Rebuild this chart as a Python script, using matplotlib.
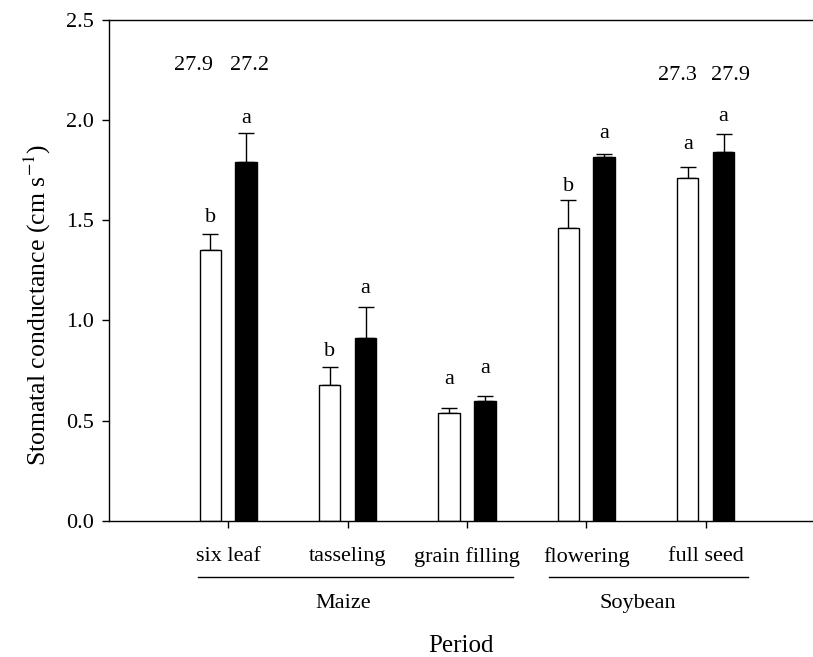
import numpy as np
import matplotlib
matplotlib.use("Agg")
import matplotlib.pyplot as plt
from matplotlib.lines import Line2D

plt.rcParams['font.family'] = ['Liberation Serif', 'DejaVu Serif']
plt.rcParams['mathtext.fontset'] = 'stix'

periods = ['six leaf', 'tasseling', 'grain filling', 'flowering', 'full seed']
white_mean = [1.35, 0.68, 0.54, 1.46, 1.71]
white_err = [0.08, 0.086, 0.023, 0.143, 0.056]
black_mean = [1.79, 0.915, 0.60, 1.815, 1.84]
black_err = [0.145, 0.15, 0.022, 0.016, 0.088]
white_letter = ['b', 'b', 'a', 'b', 'a']
black_letter = ['a', 'a', 'a', 'a', 'a']

# temperatures written above the six leaf and full seed pairs
temp_labels = ['27.9', '27.2', '27.3', '27.9']
temp_x = [0.71, 1.18, 4.76, 5.21]
temp_y = [2.27, 2.27, 2.22, 2.22]

crops = ['Maize', 'Soybean']

fs = 16
x = np.arange(1, len(periods) + 1)
off = 0.15
w = 0.18

fig = plt.figure(figsize=(8.13, 6.57), dpi=100)
ax = fig.add_axes([0.134, 0.207, 0.866, 0.763])

ax.bar(x - off, white_mean, w, color='white', edgecolor='black', linewidth=1, zorder=2)
ax.bar(x + off, black_mean, w, color='black', edgecolor='black', linewidth=1, zorder=2)
ax.errorbar(x - off, white_mean, yerr=[np.zeros(5), white_err], fmt='none',
            ecolor='black', elinewidth=1, capsize=5.5, capthick=1, zorder=1)
ax.errorbar(x + off, black_mean, yerr=[np.zeros(5), black_err], fmt='none',
            ecolor='black', elinewidth=1, capsize=5.5, capthick=1, zorder=1)

# significance letters, a small gap above each error bar
gap_w = [0.06, 0.057, 0.12, 0.045, 0.09]
gap_b = [0.05, 0.07, 0.115, 0.077, 0.068]
for i in range(len(periods)):
    ax.text(x[i] - off, white_mean[i] + white_err[i] + gap_w[i], white_letter[i],
            ha='center', va='baseline', fontsize=fs)
    ax.text(x[i] + off, black_mean[i] + black_err[i] + gap_b[i], black_letter[i],
            ha='center', va='baseline', fontsize=fs)

for t, tx, ty in zip(temp_labels, temp_x, temp_y):
    ax.text(tx, ty, t, ha='center', va='center', fontsize=fs)

ax.set_xlim(0, 5.9)
ax.set_ylim(0, 2.5)
ax.set_xticks(x)
ax.set_xticklabels(periods, fontsize=fs)
ax.set_yticks(np.arange(0, 2.51, 0.5))
ax.set_yticklabels(['%.1f' % v for v in np.arange(0, 2.51, 0.5)], fontsize=fs)
ax.tick_params(axis='x', direction='out', length=5, width=1, pad=14)
ax.tick_params(axis='y', direction='out', length=5, width=1, pad=6)
ax.spines['right'].set_visible(False)
for s in ['left', 'top', 'bottom']:
    ax.spines[s].set_linewidth(1)

ax.set_ylabel('Stomatal conductance (cm s$^{-1}$)', fontsize=18.5)
ax.yaxis.set_label_coords(-0.08, 0.43)

# crop grouping lines under the period labels
trans = ax.get_xaxis_transform()
spans = [(0.746, 3.386), (3.688, 5.356)]
name_x = [1.96, 4.43]
for name, (a, b), nx in zip(crops, spans, name_x):
    ax.add_line(Line2D([a, b], [-0.112, -0.112], color='black', lw=1,
                       transform=trans, clip_on=False))
    ax.text(nx, -0.164, name, transform=trans, ha='center',
            va='center', fontsize=fs)

ax.text(0.5, -0.25, 'Period', transform=ax.transAxes, ha='center',
        va='center', fontsize=18)

fig.savefig('out.png', dpi=100)
